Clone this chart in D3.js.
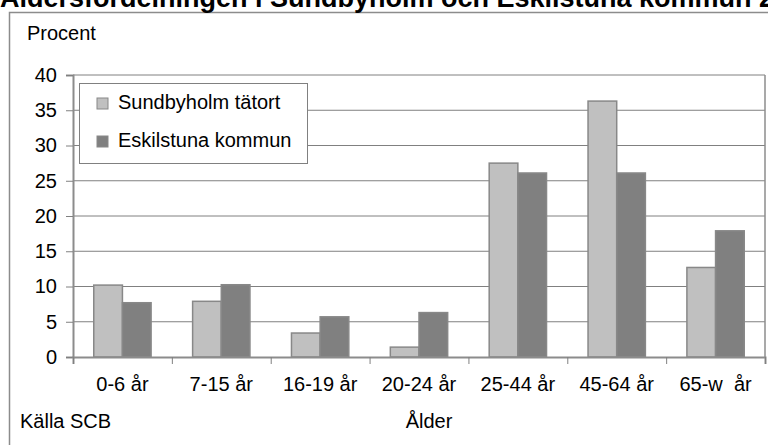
<!DOCTYPE html>
<html>
<head>
<meta charset="utf-8">
<script src="https://cdn.jsdelivr.net/npm/d3@7"></script>
<style>
  body { margin: 0; background: #fff; }
  svg { display: block; font-family: "Liberation Sans", Arial, sans-serif; }
</style>
</head>
<body>
<svg id="chart" width="768" height="445"></svg>
<script>
const ageGroups = ["0-6 år", "7-15 år", "16-19 år", "20-24 år", "25-44 år", "45-64 år", "65-w  år"];
const seriesNames = ["Sundbyholm tätort", "Eskilstuna kommun"];
const sundbyholm = [10.2, 7.9, 3.4, 1.4, 27.5, 36.3, 12.7];
const eskilstuna = [7.7, 10.25, 5.7, 6.3, 26.1, 26.1, 17.9];
const yTicks = [0, 5, 10, 15, 20, 25, 30, 35, 40];
const colors = ["#c0c0c0", "#808080"];

const svg = d3.select("#chart");
const plotLeft = 73, plotRight = 765, plotTop = 75, plotBottom = 357;

// outer frame (runs off the page to the right and bottom)
svg.append("rect")
  .attr("x", 9.5).attr("y", 12.5)
  .attr("width", 800).attr("height", 500)
  .attr("fill", "none").attr("stroke", "#8c8c8c").attr("stroke-width", 1.5);

// title, clipped at the top edge
svg.append("text")
  .attr("x", 0).attr("y", 7)
  .attr("font-size", 27).attr("font-weight", "bold")
  .text("Åldersfördelningen i Sundbyholm och Eskilstuna kommun 2009");

// scales
const x = d3.scaleBand().domain(ageGroups).range([plotLeft, plotRight]).paddingInner(0.42).paddingOuter(0.21);
const xSub = d3.scaleBand().domain(seriesNames).range([0, x.bandwidth()]);
const xEdges = d3.scaleLinear().domain([0, ageGroups.length]).range([plotLeft, plotRight]);
const y = d3.scaleLinear().domain([0, 40]).range([plotBottom, plotTop]);

// gridlines
svg.append("g")
  .selectAll("line")
  .data(yTicks.filter(d => d > 0))
  .enter().append("line")
  .attr("x1", plotLeft).attr("x2", plotRight)
  .attr("y1", d => y(d)).attr("y2", d => y(d))
  .attr("stroke", "#808080").attr("stroke-width", 1);

// right border of plot area
svg.append("line")
  .attr("x1", plotRight).attr("x2", plotRight).attr("y1", plotTop).attr("y2", plotBottom)
  .attr("stroke", "#8c8c8c").attr("stroke-width", 1.5);

// bars
const rows = ageGroups.map((g, i) => ({ group: g, values: [sundbyholm[i], eskilstuna[i]] }));
svg.append("g")
  .selectAll("g")
  .data(rows)
  .enter().append("g")
  .attr("transform", d => `translate(${x(d.group)},0)`)
  .selectAll("rect")
  .data(d => d.values.map((v, j) => ({ name: seriesNames[j], value: v, j })))
  .enter().append("rect")
  .attr("x", d => xSub(d.name))
  .attr("y", d => y(d.value))
  .attr("width", xSub.bandwidth())
  .attr("height", d => plotBottom - y(d.value))
  .attr("fill", d => colors[d.j])
  .attr("stroke", "#888")
  .attr("stroke-width", 1.5);

// y axis
const yAxis = svg.append("g")
  .attr("transform", `translate(${plotLeft},0)`)
  .call(d3.axisLeft(y).tickValues(yTicks).tickSize(7).tickPadding(9));
yAxis.select(".domain").attr("stroke", "#8c8c8c").attr("stroke-width", 2);
yAxis.selectAll(".tick line").attr("stroke", "#808080");
yAxis.selectAll(".tick text").attr("font-size", 20).attr("fill", "#000")
  .attr("font-family", "Liberation Sans, Arial, sans-serif");

// x axis: boundary ticks
const xAxisEdges = svg.append("g")
  .attr("transform", `translate(0,${plotBottom})`)
  .call(d3.axisBottom(xEdges).tickValues(d3.range(ageGroups.length + 1)).tickSize(7).tickFormat(""));
xAxisEdges.select(".domain").attr("stroke", "#8c8c8c").attr("stroke-width", 2);
xAxisEdges.selectAll(".tick line").attr("stroke", "#808080");

// x axis: category labels
const xAxis = svg.append("g")
  .attr("transform", `translate(0,${plotBottom})`)
  .call(d3.axisBottom(x).tickSize(0).tickPadding(20));
xAxis.select(".domain").remove();
xAxis.selectAll(".tick text").attr("font-size", 20).attr("fill", "#000")
  .attr("font-family", "Liberation Sans, Arial, sans-serif")
  .style("white-space", "pre");

// axis titles
svg.append("text").attr("x", 27).attr("y", 40).attr("font-size", 20).text("Procent");
svg.append("text").attr("x", 20).attr("y", 428).attr("font-size", 20).text("Källa SCB");
svg.append("text").attr("x", 429).attr("y", 428).attr("font-size", 20)
  .attr("text-anchor", "middle").text("Ålder");

// legend
const legend = svg.append("g");
legend.append("rect")
  .attr("x", 79.5).attr("y", 83.5).attr("width", 228).attr("height", 80)
  .attr("fill", "#fff").attr("stroke", "#808080").attr("stroke-width", 1);
const items = legend.selectAll("g.item")
  .data(seriesNames)
  .enter().append("g")
  .attr("class", "item")
  .attr("transform", (d, i) => `translate(97,${98 + i * 38})`);
items.append("rect")
  .attr("width", 11).attr("height", 11)
  .attr("fill", (d, i) => colors[i])
  .attr("stroke", "#888").attr("stroke-width", 1);
items.append("text")
  .attr("x", 21).attr("y", 11)
  .attr("font-size", 20)
  .text(d => d);
</script>
</body>
</html>
